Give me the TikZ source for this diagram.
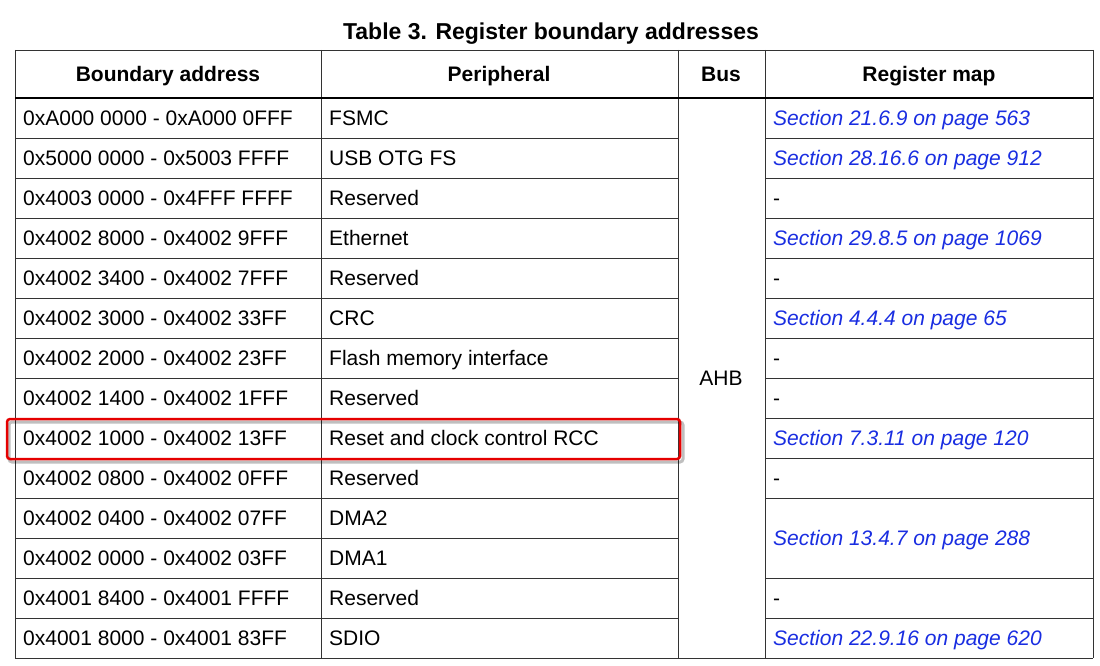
\documentclass[tikz,border=0pt]{standalone}
\usepackage{fontspec}
\setmainfont{Liberation Sans}
\definecolor{lnk}{RGB}{25,45,225}
\begin{document}
\begin{tikzpicture}[x=1pt,y=-1pt,
  cell/.style={anchor=base west,inner sep=0pt,font=\fontsize{21}{23}\selectfont},
  link/.style={cell,text=lnk,font=\fontsize{21}{23}\selectfont\itshape},
  head/.style={anchor=base,inner sep=0pt,font=\fontsize{21}{23}\selectfont\bfseries},
  grid/.style={line width=0.8pt,black!80}]
\useasboundingbox (0,0) rectangle (1100,666);
\node[head,font=\fontsize{23}{25}\selectfont\bfseries] (title) at (551,39.5) {Table 3. Register boundary addresses};
% grid
\foreach \x in {15,321,678,765,1093} \draw[grid] (\x,50) -- (\x,658);
\draw[grid] (15,50) -- (1093,50);
\draw[grid] (15,658) -- (1093,658);
\draw[line width=2pt] (15,98) -- (1093,98);
\foreach \i in {1,...,13}{
  \draw[grid] (15,98+40*\i) -- (678,98+40*\i);
  \ifnum\i=11\else\draw[grid] (765,98+40*\i) -- (1093,98+40*\i);\fi
}
% header
\node[head] (h1) at (168,81.5) {Boundary address};
\node[head] (h2) at (499,81.5) {Peripheral};
\node[head] (h3) at (721,81.5) {Bus};
\node[head] (h4) at (929,81.5) {Register map};
% rows
\foreach [count=\i from 0] \a/\p in {
 0xA000 0000 - 0xA000 0FFF/FSMC,
 0x5000 0000 - 0x5003 FFFF/USB OTG FS,
 0x4003 0000 - 0x4FFF FFFF/Reserved,
 0x4002 8000 - 0x4002 9FFF/Ethernet,
 0x4002 3400 - 0x4002 7FFF/Reserved,
 0x4002 3000 - 0x4002 33FF/CRC,
 0x4002 2000 - 0x4002 23FF/Flash memory interface,
 0x4002 1400 - 0x4002 1FFF/Reserved,
 0x4002 1000 - 0x4002 13FF/Reset and clock control RCC,
 0x4002 0800 - 0x4002 0FFF/Reserved,
 0x4002 0400 - 0x4002 07FF/DMA2,
 0x4002 0000 - 0x4002 03FF/DMA1,
 0x4001 8400 - 0x4001 FFFF/Reserved,
 0x4001 8000 - 0x4001 83FF/SDIO}{
  \node[cell] (a\i) at (23,125.5+40*\i) {\a};
  \node[cell] (p\i) at (329,125.5+40*\i) {\p};
}
\node[head,font=\fontsize{21}{23}\selectfont] (bus) at (721,385.5) {AHB};
\foreach \i/\t in {0/{Section 21.6.9 on page 563},1/{Section 28.16.6 on page 912},
  3/{Section 29.8.5 on page 1069},5/{Section 4.4.4 on page 65},8/{Section 7.3.11 on page 120},
  13/{Section 22.9.16 on page 620}}
  \node[link] (r\i) at (773,125.5+40*\i) {\t};
\node[link] (r10) at (773,545.5) {Section 13.4.7 on page 288};
\foreach \i in {2,4,6,7,9,12} \node[cell] (d\i) at (773,125.5+40*\i) {-};
% highlight
\draw[black,opacity=0.25,line width=3pt,rounded corners=3pt] (9,422) rectangle (683,462);
\draw[red!90!black,line width=2.5pt,rounded corners=3pt] (7,419) rectangle (680,459);
\end{tikzpicture}
\end{document}
